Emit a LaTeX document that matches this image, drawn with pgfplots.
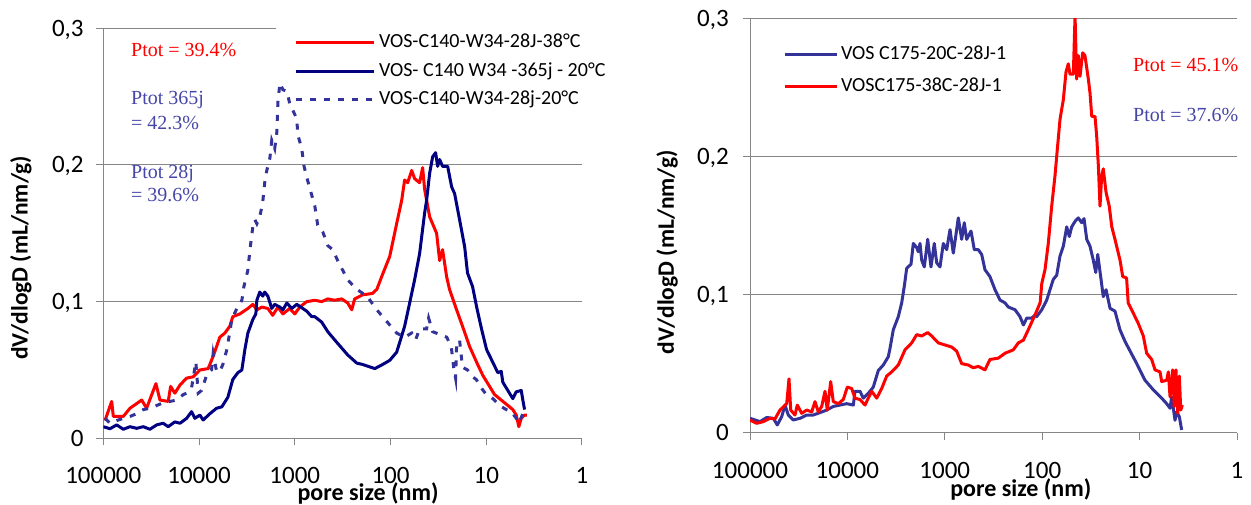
\documentclass[border=0pt]{standalone}
\usepackage{fontspec}
\setmainfont{Carlito}
\newfontfamily\timesf{Liberation Serif}
\usepackage{pgfplots}
\pgfplotsset{compat=1.18}
\definecolor{cred}{HTML}{FF0000}
\definecolor{cnavy}{HTML}{000080}
\definecolor{cblue}{HTML}{333399}
\definecolor{ctxtblue}{HTML}{4646A8}
\definecolor{cgrid}{HTML}{868686}
\begin{document}
\begin{tikzpicture}
\useasboundingbox (0,0) rectangle (1251pt,505pt);
% ---------------- left panel ----------------
\begin{axis}[xmode=log, x dir=reverse, xmin=1, xmax=100000, ymin=0, ymax=0.3,
  scale only axis, at={(103.3pt,66.7pt)}, anchor=south west, width=478.7pt, height=410pt,
  axis x line=bottom, axis y line=left,
  axis line style={draw=cgrid, line width=1pt, -},
  tick align=outside, major tick length=7pt,
  tick style={draw=cgrid, line width=1pt},
  xminorticks=false, yminorticks=false,
  xtick={1,10,100,1000,10000,100000},
  xticklabels={1,10,100,1000,10000,100000},
  ymajorgrids, major grid style={draw=cgrid, line width=1pt},
  xticklabel style={font=\fontsize{25}{28}\selectfont, anchor=base, inner sep=0pt, yshift=-38.7pt},
  yticklabel style={font=\fontsize{25}{28}\selectfont, anchor=base east, inner sep=0pt, xshift=-12.5pt, yshift=-7.8pt},
  xlabel={pore size (nm)}, ylabel={dV/dlogD (mL/nm/g)},
  xlabel style={font=\bfseries\fontsize{24}{28}\selectfont, anchor=center, at={(axis description cs:0.553,-0.135)}},
  ylabel style={font=\bfseries\fontsize{23.5}{28}\selectfont, anchor=center, at={(axis description cs:-0.172,0.44)}},
  ytick={0,0.1,0.2}, yticklabels={0,{0,1},{0,2}},
  extra y ticks={0.3}, extra y tick labels={0{,}3}, extra y tick style={grid=none},
  legend cell align=left,
  legend style={at={(axis description cs:0.3984,0.9873)}, anchor=north west, draw=none, fill=none,
    inner sep=0pt, outer sep=0pt, row sep=10.5pt, column sep=4pt,
    font=\fontsize{20}{24}\selectfont,
    nodes={inner sep=0pt, text height=14pt, text depth=4pt}},
  legend image code/.code={\draw[#1] (0pt,0pt) -- (78pt,0pt);},
]
\draw[cgrid, line width=1pt] (axis cs:100000,0.3) -- (axis cs:1578,0.3);
\addplot[cred, line width=3pt, line join=round] coordinates {
(96000,0.013)(81700,0.027)(78600,0.016)(61800,0.016)(52600,0.022)(39700,0.028)(35300,0.022)
(28200,0.040)(25600,0.028)(21000,0.027)(19800,0.038)(17900,0.033)(15800,0.039)(13500,0.044)
(11500,0.045)(9800,0.050)(8030,0.051)(7120,0.060)(6060,0.074)(5370,0.077)(4770,0.082)
(4440,0.089)(3750,0.091)(3090,0.095)(2740,0.098)(2490,0.094)(2210,0.096)(1910,0.095)
(1700,0.090)(1500,0.096)(1330,0.091)(1130,0.095)(1000,0.091)(887,0.096)(750,0.100)
(618,0.101)(523,0.100)(452,0.102)(383,0.101)(323,0.102)(280,0.099)(254,0.094)(237,0.102)
(195,0.105)(154,0.106)(139,0.109)(121,0.120)(102,0.133)(86.3,0.157)(76.5,0.174)(71.2,0.189)
(66.2,0.187)(60.1,0.196)(56.0,0.190)(49.7,0.187)(46.2,0.198)(44.0,0.182)(39.0,0.162)
(33.0,0.150)(30.7,0.130)(28.6,0.138)(25.9,0.118)(24.2,0.109)(20.4,0.094)(17.7,0.082)
(14.9,0.067)(12.3,0.054)(10.85,0.046)(9.24,0.038)(8.19,0.032)(7.26,0.029)(6.44,0.026)
(5.71,0.023)(5.28,0.021)(4.86,0.017)(4.57,0.0085)(4.31,0.0146)(3.98,0.017)(3.77,0.017)
};
\addlegendentry{VOS-C140-W34-28J-38°C}
\addplot[cnavy, line width=3pt, line join=round] coordinates {
(100000,0.0085)(85100,0.007)(72500,0.0098)(61800,0.0066)(52600,0.0085)(44800,0.0073)
(38200,0.0085)(32600,0.0066)(27700,0.0098)(23700,0.011)(21000,0.0085)(17900,0.012)
(15800,0.011)(13500,0.0146)(11960,0.0195)(11050,0.0146)(9800,0.017)(9050,0.0134)(7700,0.018)
(6560,0.022)(5780,0.023)(5000,0.030)(4440,0.043)(3930,0.048)(3570,0.050)(3320,0.065)
(3090,0.077)(2740,0.087)(2550,0.091)(2490,0.101)(2320,0.107)(2160,0.104)(2060,0.107)
(1910,0.104)(1740,0.095)(1620,0.098)(1430,0.096)(1330,0.094)(1210,0.099)(1075,0.095)
(953,0.098)(750,0.093)(665,0.089)(618,0.089)(523,0.085)(452,0.078)(383,0.072)(323,0.066)
(280,0.061)(225,0.055)(195,0.054)(146,0.051)(121,0.054)(102,0.057)(86.3,0.063)(80.3,0.070)
(71.2,0.082)(63.1,0.099)(56.0,0.116)(49.7,0.135)(44.0,0.165)(42.0,0.174)(39.0,0.194)
(36.3,0.206)(33.8,0.209)(32.2,0.199)(30.7,0.204)(28.6,0.199)(25.3,0.199)(23.0,0.184)
(21.4,0.179)(19.0,0.160)(16.8,0.140)(15.7,0.121)(13.9,0.111)(12.6,0.096)(11.2,0.080)
(9.93,0.065)(8.60,0.056)(7.57,0.048)(6.98,0.049)(6.71,0.041)(5.95,0.035)(5.28,0.029)
(4.86,0.034)(4.31,0.035)(4.15,0.028)(3.98,0.021)
};
\addlegendentry{VOS- C140 W34 -365j - 20°C}
\addplot[cblue, line width=3pt, dash pattern=on 6pt off 8pt] coordinates {
(96000,0.0146)(85100,0.011)(72500,0.013)(61800,0.0146)(52600,0.016)(44800,0.018)
(38200,0.021)(32600,0.022)(27700,0.024)(23700,0.026)(20100,0.027)(17100,0.028)(14600,0.032)
(13500,0.033)(11960,0.037)(10800,0.056)(10200,0.033)(9410,0.035)(8340,0.046)(7400,0.050)
(7120,0.062)(6560,0.049)(6060,0.049)(5640,0.054)(5120,0.065)(4540,0.087)(4030,0.095)
(3570,0.101)(3400,0.111)(3090,0.123)(3020,0.130)(2880,0.143)(2740,0.155)(2610,0.160)
(2490,0.157)(2320,0.162)(2160,0.173)(2060,0.187)(1960,0.196)(1820,0.205)(1740,0.218)
(1620,0.212)(1540,0.224)(1500,0.246)(1430,0.260)(1330,0.255)(1210,0.254)(1130,0.245)
(1050,0.240)(953,0.234)(930,0.222)(845,0.212)(806,0.200)(750,0.191)(697,0.183)(618,0.170)
(576,0.156)(510,0.151)(452,0.141)(401,0.138)(356,0.130)(316,0.123)(280,0.116)(248,0.112)
(225,0.109)(176,0.104)(139,0.094)(108,0.085)(86.3,0.077)(71.2,0.074)(60.1,0.077)(54.7,0.072)
(49.7,0.080)(42.0,0.080)(40.0,0.088)(36.3,0.078)(30.7,0.076)(25.9,0.074)(23.2,0.067)
(21.9,0.052)(20.9,0.044)(20.4,0.068)(19.0,0.072)(17.7,0.052)(15.7,0.050)(13.9,0.045)
(12.7,0.043)(11.3,0.037)(10.0,0.032)(8.53,0.029)(7.26,0.024)(6.18,0.021)(5.48,0.0195)
(4.86,0.0146)(4.57,0.011)(4.15,0.018)(3.83,0.017)
};
\addlegendentry{VOS-C140-W34-28j-20°C}
\end{axis}
\node[anchor=base west, inner sep=0pt, text=cred, font=\timesf\fontsize{20}{24}\selectfont] at (131pt,448.4pt) {Ptot = 39.4\%};
\node[anchor=base west, inner sep=0pt, text=ctxtblue, font=\timesf\fontsize{20}{24}\selectfont] at (131pt,400pt) {Ptot 365j};
\node[anchor=base west, inner sep=0pt, text=ctxtblue, font=\timesf\fontsize{20}{24}\selectfont] at (131pt,375pt) {= 42.3\%};
\node[anchor=base west, inner sep=0pt, text=ctxtblue, font=\timesf\fontsize{20}{24}\selectfont] at (131pt,326pt) {Ptot 28j};
\node[anchor=base west, inner sep=0pt, text=ctxtblue, font=\timesf\fontsize{20}{24}\selectfont] at (131pt,303.3pt) {= 39.6\%};
% ---------------- right panel ----------------
\begin{axis}[xmode=log, x dir=reverse, xmin=1, xmax=100000, ymin=0, ymax=0.3,
  scale only axis, at={(750pt,72.3pt)}, anchor=south west, width=487pt, height=414.4pt,
  axis x line=bottom, axis y line=left,
  axis line style={draw=cgrid, line width=1pt, -},
  tick align=outside, major tick length=7pt,
  tick style={draw=cgrid, line width=1pt},
  xminorticks=false, yminorticks=false,
  xtick={1,10,100,1000,10000,100000},
  xticklabels={1,10,100,1000,10000,100000},
  ymajorgrids, major grid style={draw=cgrid, line width=1pt},
  xticklabel style={font=\fontsize{25}{28}\selectfont, anchor=base, inner sep=0pt, yshift=-38.7pt},
  yticklabel style={font=\fontsize{25}{28}\selectfont, anchor=base east, inner sep=0pt, xshift=-14pt, yshift=-7.8pt},
  xlabel={pore size (nm)}, ylabel={dV/dlogD (mL/nm/g)},
  xlabel style={font=\bfseries\fontsize{24}{28}\selectfont, anchor=center, at={(axis description cs:0.556,-0.136)}},
  ylabel style={font=\bfseries\fontsize{23.5}{28}\selectfont, anchor=center, at={(axis description cs:-0.170,0.436)}},
  ytick={0,0.1,0.2,0.3}, yticklabels={0,{0,1},{0,2},{0,3}},
  legend cell align=left,
  legend style={at={(axis description cs:0.0678,0.9336)}, anchor=north west, draw=none, fill=none,
    inner sep=0pt, outer sep=0pt, row sep=13.7pt, column sep=3pt,
    font=\fontsize{20}{24}\selectfont,
    nodes={inner sep=0pt, text height=14pt, text depth=4pt}},
  legend image code/.code={\draw[#1] (0pt,0pt) -- (52pt,0pt);},
]
\addplot[cblue, line width=3pt, line join=round] coordinates {
(100000,0.0104)(78950,0.008)(67350,0.011)(57650,0.0104)(52450,0.0056)(47270,0.0116)
(43710,0.020)(40440,0.0128)(35930,0.0092)(30670,0.0104)(26170,0.0128)(22390,0.0128)
(18360,0.015)(16320,0.0164)(13960,0.019)(11910,0.020)(10170,0.021)(8686,0.020)(8356,0.030)
(7427,0.030)(6866,0.025)(6101,0.0285)(5423,0.033)(4817,0.045)(4280,0.049)(3802,0.055)
(3653,0.061)(3379,0.0745)(3002,0.084)(2771,0.094)(2605,0.106)(2462,0.119)(2223,0.122)
(2105,0.137)(1943,0.134)(1872,0.131)(1797,0.137)(1727,0.125)(1624,0.120)(1498,0.140)
(1386,0.120)(1282,0.137)(1211,0.123)(1120,0.120)(1036,0.137)(956,0.1325)(884,0.147)
(818,0.130)(773,0.142)(727,0.1555)(671,0.140)(631,0.152)(596,0.140)(538,0.146)(498,0.1325)
(453,0.1325)(418,0.129)(387,0.118)(344,0.113)(305,0.1035)(271,0.096)(241,0.094)(223,0.091)
(190,0.089)(169,0.084)(156,0.078)(144,0.083)(128,0.083)(119,0.085)(114,0.084)(101,0.089)
(89.9,0.096)(83.2,0.1035)(76.9,0.111)(71.0,0.114)(65.6,0.128)(60.7,0.135)(56.0,0.149)
(52.7,0.142)(49.8,0.149)(46.0,0.153)(42.6,0.1555)(39.3,0.152)(37.2,0.155)(34.9,0.140)
(32.3,0.135)(29.9,0.125)(28.2,0.116)(26.9,0.129)(25.1,0.113)(23.6,0.0985)(22.1,0.1035)
(20.1,0.090)(17.9,0.088)(15.9,0.0745)(14.1,0.066)(12.5,0.059)(10.7,0.050)(8.80,0.038)
(7.23,0.031)(5.93,0.025)(5.27,0.021)(4.87,0.0177)(4.68,0.026)(4.33,0.009)(4.16,0.015)
(3.91,0.0116)(3.70,0.002)
};
\addlegendentry{VOS C175-20C-28J-1}
\addplot[cred, line width=3pt, line join=round] coordinates {
(100000,0.0092)(85350,0.0068)(73030,0.008)(62330,0.0104)(55380,0.010)(49200,0.0164)
(42000,0.021)(39780,0.039)(38200,0.0164)(34510,0.0128)(32690,0.020)(29450,0.014)
(26170,0.0164)(23260,0.015)(21510,0.0225)(19900,0.015)(18360,0.019)(16980,0.030)
(16090,0.0164)(14840,0.037)(13960,0.0225)(12400,0.021)(11020,0.024)(10020,0.033)
(9033,0.032)(8356,0.025)(7427,0.024)(6598,0.020)(6101,0.025)(5629,0.030)(5003,0.025)
(4445,0.032)(3950,0.041)(3510,0.044)(3002,0.049)(2563,0.060)(2187,0.065)(1943,0.071)
(1727,0.070)(1498,0.0725)(1363,0.070)(1166,0.065)(995,0.0635)(849,0.062)(755,0.059)
(671,0.050)(574,0.049)(510,0.047)(453,0.048)(387,0.0455)(344,0.053)(282,0.054)(241,0.0575)
(198,0.060)(176,0.065)(156,0.067)(139,0.0745)(119,0.085)(105,0.094)(101,0.108)(93.6,0.118)
(86.6,0.137)(79.9,0.164)(73.9,0.186)(70.0,0.205)(65.6,0.227)(60.7,0.241)(57.0,0.261)
(54.0,0.267)(51.8,0.2595)(47.9,0.2595)(46.0,0.302)(44.3,0.256)(42.6,0.273)(40.9,0.258)
(38.4,0.275)(36.4,0.273)(33.6,0.256)(32.3,0.246)(31.0,0.229)(28.7,0.229)(27.6,0.215)
(26.5,0.193)(25.5,0.164)(24.5,0.186)(23.6,0.191)(22.1,0.174)(20.5,0.164)(19.3,0.149)
(17.9,0.140)(15.9,0.125)(14.9,0.113)(13.6,0.112)(13.1,0.094)(11.6,0.0865)(10.3,0.079)
(9.16,0.070)(8.46,0.0575)(7.51,0.053)(6.95,0.0455)(6.17,0.044)(5.93,0.037)(5.27,0.038)
(5.07,0.044)(4.87,0.026)(4.57,0.0455)(4.41,0.019)(4.23,0.0455)(4.06,0.014)(3.91,0.041)
(3.78,0.0164)(3.64,0.020)
};
\addlegendentry{VOSC175-38C-28J-1}
\end{axis}
\node[anchor=base west, inner sep=0pt, text=cred, font=\timesf\fontsize{20}{24}\selectfont] at (1133pt,433.3pt) {Ptot = 45.1\%};
\node[anchor=base west, inner sep=0pt, text=ctxtblue, font=\timesf\fontsize{20}{24}\selectfont] at (1133pt,383.3pt) {Ptot = 37.6\%};
\end{tikzpicture}
\end{document}
